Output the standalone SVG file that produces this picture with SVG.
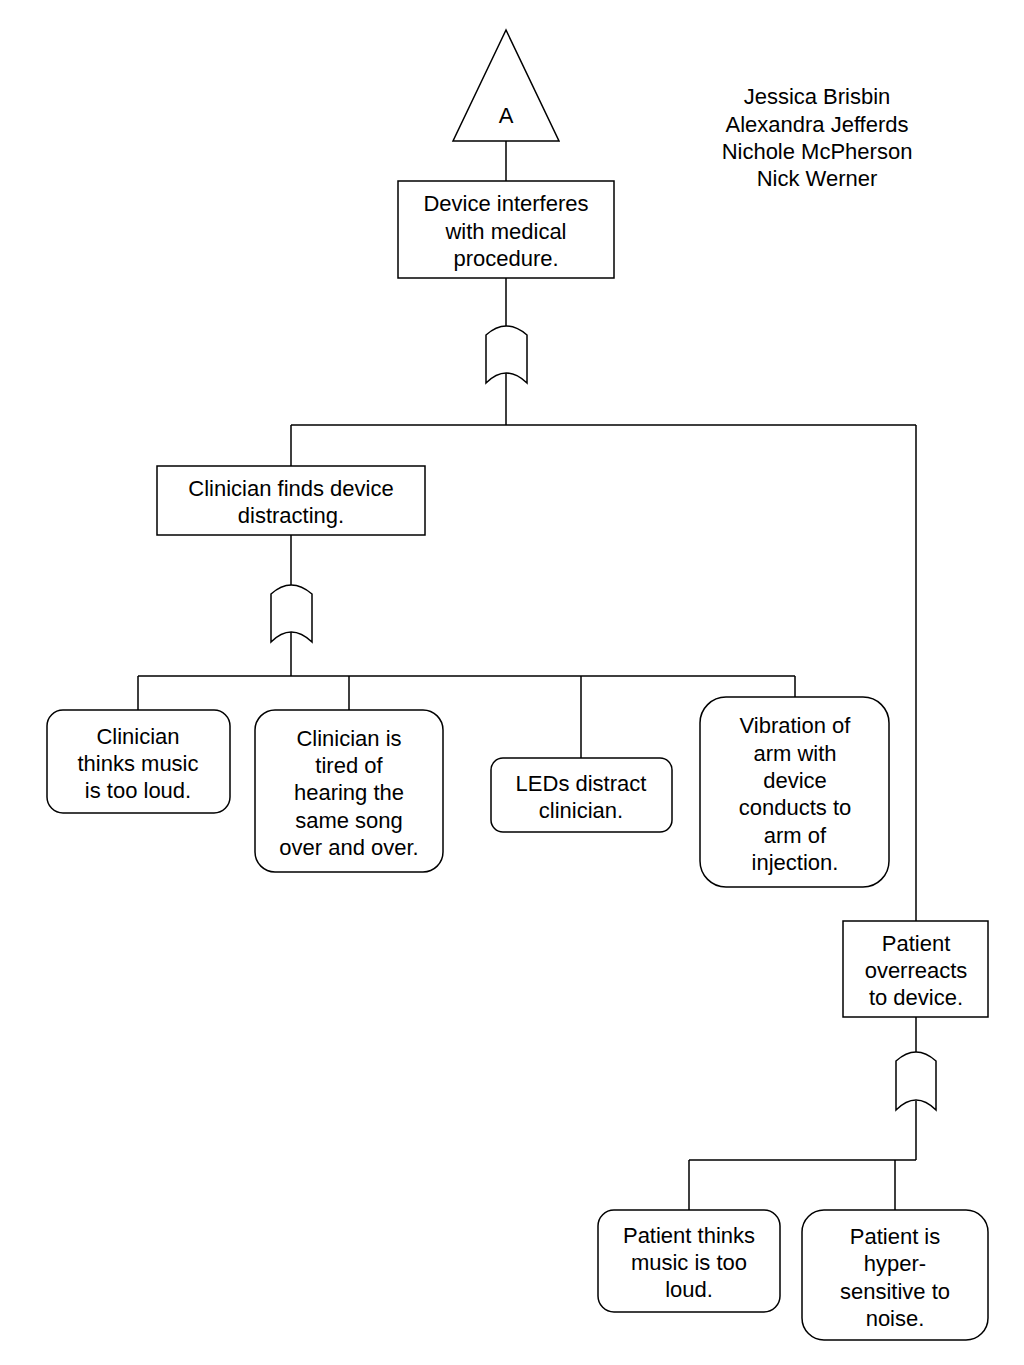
<svg xmlns="http://www.w3.org/2000/svg" width="1024" height="1365" viewBox="0 0 1024 1365">
<style>
.b{fill:#fff;stroke:#000;stroke-width:1.5}
.g{fill:#fff;stroke:#000;stroke-width:1.5}
.c{fill:none;stroke:#000;stroke-width:1.5}
text{font-family:"Liberation Sans",Arial,sans-serif;font-size:22px;text-anchor:middle;fill:#000}
</style>
<rect width="1024" height="1365" fill="#fff"/>
<g id="connectors">
<path class="c" d="M506 141V181M506 278V328M506 373V425M291 425H916M291 425V466M916 425V921"/>
<path class="c" d="M291 535V586M291 632V676M138 676H795M138 676V710M349 676V710M581 676V758M795 676V697"/>
<path class="c" d="M916 1017V1054M916 1101V1160M689 1160H916M689 1160V1210M895 1160V1210"/>
</g>
<g id="transfer-A">
<polygon class="b" points="506,30 453,141 559,141"/>
<text x="506" y="123">A</text>
</g>
<g id="authors">
<text x="817" y="104">Jessica Brisbin</text>
<text x="817" y="132">Alexandra Jefferds</text>
<text x="817" y="159">Nichole McPherson</text>
<text x="817" y="186">Nick Werner</text>
</g>
<g id="top-event">
<rect class="b" x="398" y="181" width="216" height="97"/>
<text x="506" y="211">Device interferes</text>
<text x="506" y="239">with medical</text>
<text x="506" y="266">procedure.</text>
</g>
<g id="or-gate-1">
<path class="g" d="M486 383V335Q506 317 527 335V383Q506 363 486 383Z"/>
</g>
<g id="clinician-distracted">
<rect class="b" x="157" y="466" width="268" height="69"/>
<text x="291" y="496">Clinician finds device</text>
<text x="291" y="523">distracting.</text>
</g>
<g id="or-gate-2">
<path class="g" d="M271 642V594Q291 576 312 594V642Q291 622 271 642Z"/>
</g>
<g id="music-loud-clinician">
<rect class="b" x="47" y="710" width="183" height="103" rx="16"/>
<text x="138" y="744">Clinician</text>
<text x="138" y="771">thinks music</text>
<text x="138" y="798">is too loud.</text>
</g>
<g id="same-song">
<rect class="b" x="255" y="710" width="188" height="162" rx="20"/>
<text x="349" y="746">Clinician is</text>
<text x="349" y="773">tired of</text>
<text x="349" y="800">hearing the</text>
<text x="349" y="828">same song</text>
<text x="349" y="855">over and over.</text>
</g>
<g id="leds">
<rect class="b" x="491" y="758" width="181" height="74" rx="12"/>
<text x="581" y="791">LEDs distract</text>
<text x="581" y="818">clinician.</text>
</g>
<g id="vibration">
<rect class="b" x="700" y="697" width="189" height="190" rx="26"/>
<text x="795" y="733">Vibration of</text>
<text x="795" y="761">arm with</text>
<text x="795" y="788">device</text>
<text x="795" y="815">conducts to</text>
<text x="795" y="843">arm of</text>
<text x="795" y="870">injection.</text>
</g>
<g id="patient-overreacts">
<rect class="b" x="843" y="921" width="145" height="96"/>
<text x="916" y="951">Patient</text>
<text x="916" y="978">overreacts</text>
<text x="916" y="1005">to device.</text>
</g>
<g id="or-gate-3">
<path class="g" d="M896 1110V1061Q916 1043 936 1061V1110Q916 1090 896 1110Z"/>
</g>
<g id="patient-music-loud">
<rect class="b" x="598" y="1210" width="182" height="102" rx="16"/>
<text x="689" y="1243">Patient thinks</text>
<text x="689" y="1270">music is too</text>
<text x="689" y="1297">loud.</text>
</g>
<g id="hypersensitive">
<rect class="b" x="802" y="1210" width="186" height="130" rx="22"/>
<text x="895" y="1244">Patient is</text>
<text x="895" y="1271">hyper-</text>
<text x="895" y="1299">sensitive to</text>
<text x="895" y="1326">noise.</text>
</g>
</svg>
